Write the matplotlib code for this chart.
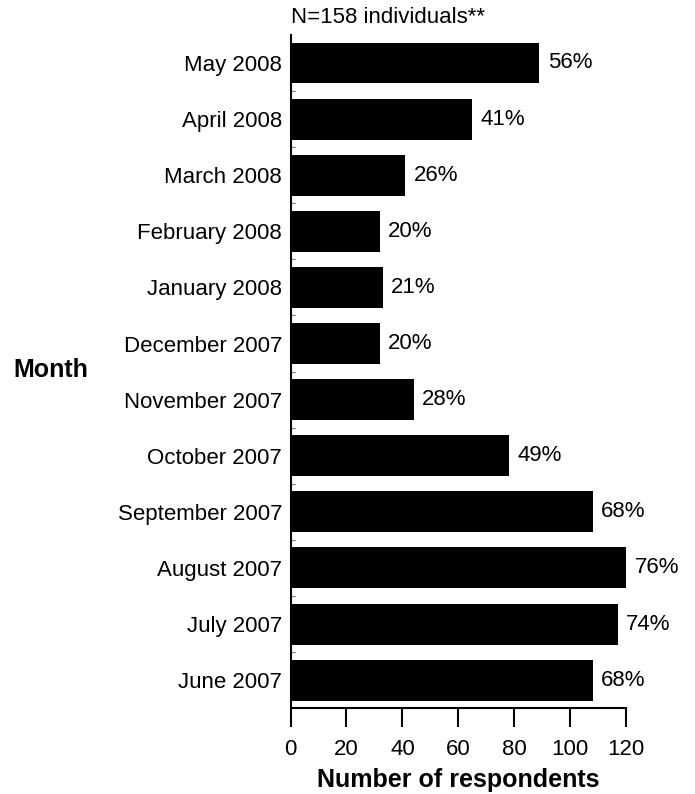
import matplotlib.pyplot as plt
import numpy as np

plt.rcParams['font.family'] = ['Liberation Sans', 'DejaVu Sans']

months = ["June 2007", "July 2007", "August 2007", "September 2007",
          "October 2007", "November 2007", "December 2007", "January 2008",
          "February 2008", "March 2008", "April 2008", "May 2008"]
respondents = [108, 117, 120, 108, 78, 44, 32, 33, 32, 41, 65, 89]
percents = ["68%", "74%", "76%", "68%", "49%", "28%", "20%", "21%",
            "20%", "26%", "41%", "56%"]
xticks = [0, 20, 40, 60, 80, 100, 120]

fig = plt.figure(figsize=(6.95, 7.94), dpi=100)
ax = fig.add_axes([0.418, 0.108, 0.483, 0.848])

y = np.arange(len(months))
ax.barh(y, respondents, height=0.73, color="black")
for yi, v, p in zip(y, respondents, percents):
    ax.annotate(p, (v, yi), xytext=(6, 0), textcoords="offset points",
                va="center", ha="left", fontsize=16)

ax.set_xlim(0, 120)
ax.set_ylim(-0.5, 11.5)
ax.set_xticks(xticks)
ax.set_yticks(y)
ax.set_yticklabels(months, fontsize=16)
ax.set_yticks(np.arange(-0.5, 11.5, 1), minor=True)
ax.tick_params(axis="y", which="major", length=0, pad=6)
ax.tick_params(axis="y", which="minor", length=3, direction="in", color="#555555")
ax.tick_params(axis="x", length=14, width=1.5, pad=8, labelsize=16)

for s in ["top", "right"]:
    ax.spines[s].set_visible(False)
ax.spines["left"].set_linewidth(1.5)
ax.spines["bottom"].set_linewidth(1.5)

ax.set_xlabel("Number of respondents", fontsize=18, fontweight="bold", labelpad=6)
fig.text(0.019, 1 - 370 / 794, "Month", fontsize=18, fontweight="bold",
         ha="left", va="center")
ax.text(0, 1.01, "N=158 individuals**", transform=ax.transAxes,
        fontsize=16, ha="left", va="bottom")

fig.savefig("out.png", dpi=100)
